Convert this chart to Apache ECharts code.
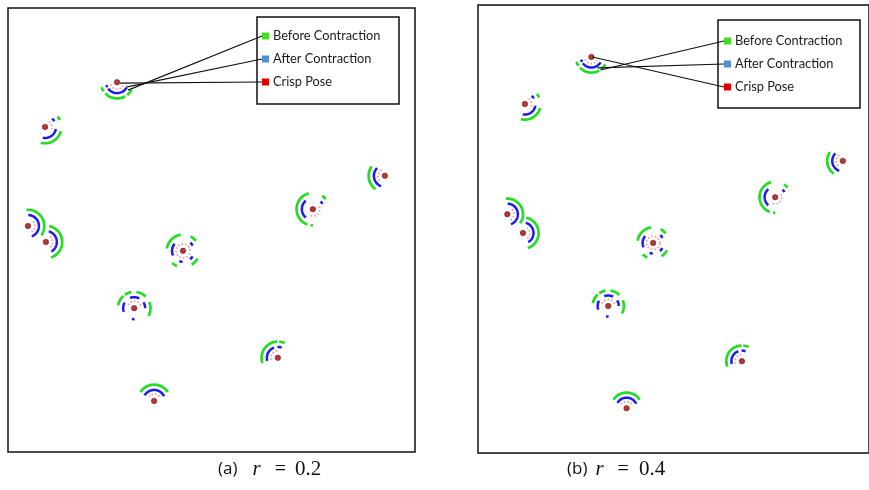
<!DOCTYPE html>
<html>
<head>
<meta charset="utf-8">
<script src="https://cdn.jsdelivr.net/npm/echarts@6/dist/echarts.min.js"></script>
<style>
  html, body { margin: 0; padding: 0; background: #fff; }
  #chart { width: 869px; height: 490px; }
</style>
</head>
<body>
<div id="chart"></div>
<script>
// Field coordinates of the ten robot poses (metres, 10 x 10 field), panel (a) r = 0.2
const poseXA = [2.68, 0.91, 0.49, 0.93, 4.30, 3.10, 7.49, 9.26, 6.63, 3.59];
const poseYA = [8.33, 7.32, 5.09, 4.73, 4.53, 3.24, 5.47, 6.22, 2.12, 1.15];
// Panel (b) r = 0.4
const poseXB = [2.90, 1.20, 0.75, 1.15, 4.48, 3.33, 7.60, 9.33, 6.75, 3.80];
const poseYB = [8.84, 7.79, 5.33, 4.91, 4.69, 3.28, 5.71, 6.52, 2.05, 1.00];

// Angular extents (degrees, counter-clockwise from +x) of each ring, per pose
const beforeArcs = [
  [[198, 214], [224, 300], [308, 332]],
  [[255, 345], [25, 40]],
  [[-35, 95]],
  [[-72, 78]],
  [[98, 172], [38, 62], [-58, -28], [228, 248]],
  [[100, 125], [132, 170], [45, 82], [-28, 22]],
  [[105, 250], [38, 55], [262, 270]],
  [[145, 235]],
  [[92, 200], [65, 85]],
  [[33, 147]]
];
const afterArcs = [
  [[195, 208], [216, 330]],
  [[258, 350], [32, 50]],
  [[-70, 88]],
  [[-60, 75]],
  [[140, 205], [28, 48], [-50, -30], [250, 268]],
  [[150, 200], [62, 112], [0, 32], [258, 272]],
  [[130, 230], [28, 45]],
  [[135, 250]],
  [[110, 196], [70, 92]],
  [[25, 150]]
];
const crispArcs = [
  [[200, 330]],
  [[-20, 60]],
  [[-60, 60]],
  [[-50, 50]],
  [[0, 360]],
  [[20, 160]],
  [[-110, 40]],
  [[120, 230]],
  [[95, 200]],
  [[40, 140]]
];

// Ring radii (metres)
const radiusBefore = 0.40;
const radiusAfter = 0.27;
const radiusCrisp = 0.17;

const seriesNames = ['Before Contraction', 'After Contraction', 'Crisp Pose'];
const captionA = ['(a)', 'r', '=', '0.2'];
const captionB = ['(b)', 'r', '=', '0.4'];

const GREEN = '#22dd22';
const BLUE = '#1c1cf0';
const PINK = '#f0909a';
const RED_DOT = '#a00808';

function arcPoints(c, r, a0, a1) {
  const pts = [];
  const n = Math.max(2, Math.ceil(Math.abs(a1 - a0) / 4));
  for (let k = 0; k <= n; k++) {
    const a = (a0 + (a1 - a0) * k / n) * Math.PI / 180;
    pts.push([c[0] + r * Math.cos(a), c[1] - r * Math.sin(a)]);
  }
  return pts;
}

function ringRenderer(arcs, radius, style) {
  return function (params, api) {
    const c = api.coord([api.value(0), api.value(1)]);
    const r = api.size([radius, 0])[0];
    return {
      type: 'group',
      children: arcs[params.dataIndex].map(function (span) {
        return {
          type: 'polyline',
          shape: { points: arcPoints(c, r, span[0], span[1]) },
          style: Object.assign({ fill: null }, style)
        };
      })
    };
  };
}

function poseData(xs, ys) {
  return xs.map(function (x, i) { return [x, ys[i]]; });
}

function panelSeries(idx, xs, ys) {
  const data = poseData(xs, ys);
  const common = { xAxisIndex: idx, yAxisIndex: idx, clip: false, silent: true };
  return [
    Object.assign({
      type: 'custom', name: seriesNames[0], data: data, encode: { x: 0, y: 1 },
      itemStyle: { color: GREEN },
      renderItem: ringRenderer(beforeArcs, radiusBefore,
        { stroke: GREEN, lineWidth: 2.7, lineCap: 'butt' })
    }, common),
    Object.assign({
      type: 'custom', name: seriesNames[1], data: data, encode: { x: 0, y: 1 },
      itemStyle: { color: BLUE },
      renderItem: ringRenderer(afterArcs, radiusAfter,
        { stroke: BLUE, lineWidth: 2.5, lineCap: 'butt' })
    }, common),
    Object.assign({
      type: 'custom', name: seriesNames[2], data: data, encode: { x: 0, y: 1 },
      itemStyle: { color: PINK },
      renderItem: ringRenderer(crispArcs, radiusCrisp,
        { stroke: PINK, lineWidth: 1.6, lineDash: [1.6, 2] })
    }, common),
    Object.assign({
      type: 'scatter', name: seriesNames[2], data: data, symbolSize: 5.5,
      itemStyle: { color: RED_DOT, borderColor: '#6a0000', borderWidth: 0.6 },
      z: 5
    }, common)
  ];
}

const hiddenAxis = function (gridIndex) {
  return {
    type: 'value', gridIndex: gridIndex, min: 0, max: 10,
    axisLine: { show: false }, axisTick: { show: false },
    axisLabel: { show: false }, splitLine: { show: false }
  };
};

const legendColors = ['#44dd22', '#4f8fd2', '#e00000'];
function legendFor(left, top) {
  return {
    left: left, top: top, orient: 'vertical', padding: 0,
    icon: 'rect', itemWidth: 7, itemHeight: 7, itemGap: 8,
    selectedMode: false,
    textStyle: { fontFamily: 'Lato', fontSize: 12.8, color: '#1a1a1a', lineHeight: 15, padding: [0, 0, 0, -1] },
    data: seriesNames.map(function (n, i) {
      return { name: n, itemStyle: { color: legendColors[i], borderWidth: 0 } };
    })
  };
}

// Caption under each panel: label, italic variable, equals sign, value
function captionTitle(parts, left, gaps) {
  return {
    left: left, top: 459, padding: 0,
    text: '{p|' + parts[0] + '}{r|' + parts[1] + '}{e|' + parts[2] + '}{n|' + parts[3] + '}',
    textStyle: {
      fontWeight: 'normal',
      rich: {
        p: { fontFamily: 'Open Sans', fontSize: 17, fontWeight: 'normal', color: '#111', padding: [0, gaps[0], 0, 0] },
        r: { fontFamily: 'Liberation Serif', fontStyle: 'italic', fontWeight: 'normal', fontSize: 21, color: '#111', padding: [0, gaps[1], 0, 0] },
        e: { fontFamily: 'Liberation Serif', fontWeight: 'normal', fontSize: 20, color: '#111', padding: [0, gaps[2], 0, 0] },
        n: { fontFamily: 'Liberation Serif', fontWeight: 'normal', fontSize: 21, color: '#111' }
      }
    }
  };
}

const chart = echarts.init(document.getElementById('chart'), null, { renderer: 'canvas' });
chart.setOption({
  animation: false,
  backgroundColor: '#fff',
  title: [captionTitle(captionA, 218, [15, 14, 9]), captionTitle(captionB, 567, [8, 14, 10])],
  grid: [
    { left: 8, top: 8, width: 407, height: 444, show: true, borderColor: '#111', borderWidth: 1.5, backgroundColor: 'transparent' },
    { left: 478, top: 5, width: 400, height: 448, show: true, borderColor: '#111', borderWidth: 1.5, backgroundColor: 'transparent' }
  ],
  xAxis: [hiddenAxis(0), hiddenAxis(1)],
  yAxis: [hiddenAxis(0), hiddenAxis(1)],
  legend: [legendFor(262, 28.5), legendFor(724, 33.5)],
  series: panelSeries(0, poseXA, poseYA).concat(panelSeries(1, poseXB, poseYB))
});

// Legend frames and the leader lines joining each legend entry to the labelled pose
const frameA = { x: 257, y: 17, width: 142, height: 87 };
const frameB = { x: 718, y: 20, width: 142, height: 88 };
const anchorsA = [[262, 36], [262, 59], [262, 82]];
const anchorsB = [[724, 41], [724, 64], [724, 87]];
const leaderOffsetsA = [[11, 8], [9, 5], [3, 1]];
const leaderOffsetsB = [[9, 13], [6, 11], [1, 0]];

function leaders(gridIndex, xs, ys, anchors, offsets) {
  const p = chart.convertToPixel({ gridIndex: gridIndex }, [xs[0], ys[0]]);
  return anchors.map(function (a, i) {
    return {
      type: 'line', z: 10, silent: true,
      shape: { x1: a[0], y1: a[1], x2: p[0] + offsets[i][0], y2: p[1] + offsets[i][1] },
      style: { stroke: '#111', lineWidth: 1.2 }
    };
  });
}

function frame(f) {
  return {
    type: 'rect', z: 1, silent: true,
    shape: { x: f.x, y: f.y, width: f.width, height: f.height },
    style: { fill: 'none', stroke: '#111', lineWidth: 1.5 }
  };
}

chart.setOption({
  graphic: [frame(frameA), frame(frameB)]
    .concat(leaders(0, poseXA, poseYA, anchorsA, leaderOffsetsA))
    .concat(leaders(1, poseXB, poseYB, anchorsB, leaderOffsetsB))
});
</script>
</body>
</html>
